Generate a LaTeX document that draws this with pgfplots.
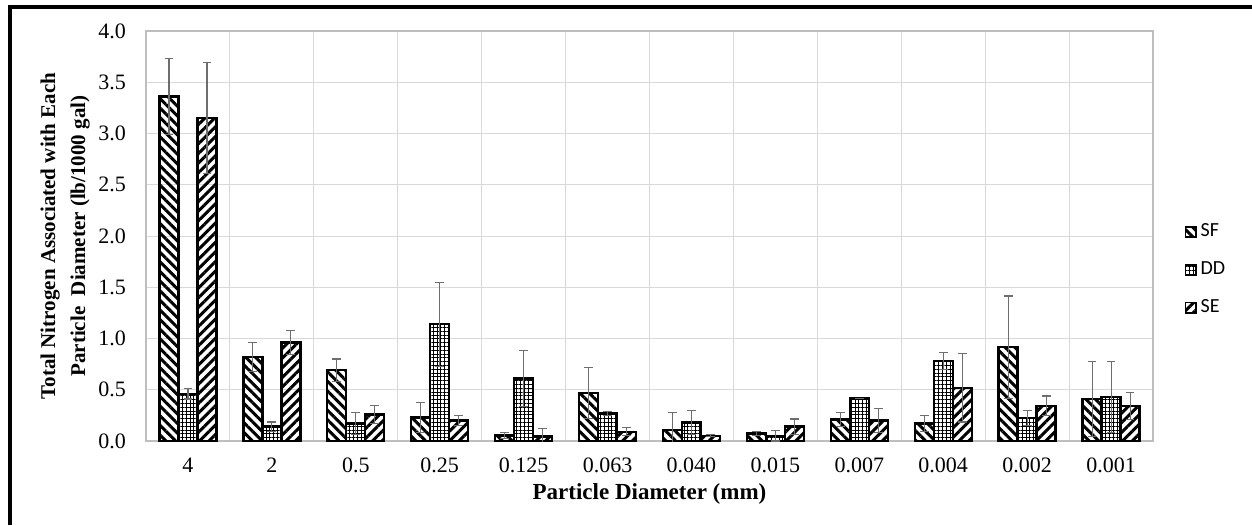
\documentclass[border=0pt]{standalone}
\usepackage{pgfplots}
\pgfplotsset{compat=1.18}
\usepackage{pgfplotstable}
\usepackage{fontspec}
\setmainfont{Liberation Serif}
\newfontfamily\legfont{Carlito}
\usetikzlibrary{patterns.meta}

\definecolor{gridgray}{RGB}{217,217,217}
\definecolor{errgray}{RGB}{110,110,110}

% x: category index 0..11 (4, 2, 0.5, ... 0.001 mm)
\pgfplotstableread{
x  sf    sfe   dd    dde   se    see
0  3.36  0.37  0.46  0.05  3.15  0.54
1  0.82  0.14  0.14  0.045 0.96  0.12
2  0.69  0.11  0.17  0.11  0.26  0.085
3  0.23  0.15  1.14  0.41  0.20  0.045
4  0.055 0.03  0.61  0.27  0.045 0.075
5  0.47  0.25  0.27  0.02  0.09  0.04
6  0.11  0.165 0.18  0.12  0.05  0.01
7  0.075 0.02  0.05  0.05  0.14  0.075
8  0.21  0.065 0.415 0.0   0.20  0.12
9  0.17  0.075 0.78  0.085 0.52  0.335
10 0.915 0.50  0.224 0.075 0.344 0.095
11 0.41  0.37  0.43  0.345 0.344 0.13
}\datatable

\tikzset{
  sfpat/.style={pattern={Lines[angle=-45,distance=3.4pt,line width=1.5pt]}},
  ddpat/.style={pattern={Hatch[angle=0,distance=1.9pt,line width=0.4pt]}},
  sepat/.style={pattern={Lines[angle=45,distance=3.4pt,line width=1.5pt]}},
}

\begin{document}
\begin{tikzpicture}
\useasboundingbox (-73pt,-42pt) rectangle (553pt,220.5pt);
\fill[white] (-73pt,-42pt) rectangle (553pt,220.5pt);
\begin{axis}[
    at={(0pt,0pt)}, anchor=south west,
    scale only axis,
    width=503.5pt, height=205pt,
    ybar=0pt, bar width=9.5pt,
    xmin=-0.5, xmax=11.5,
    ymin=0, ymax=4,
    xtick={0,...,11},
    xticklabels={4,2,0.5,0.25,0.125,0.063,0.040,0.015,0.007,0.004,0.002,0.001},
    minor xtick={-0.5,0.5,...,11.5},
    xminorgrids=true,
    ytick={0,0.5,...,4},
    ymajorgrids=true,
    major grid style={gridgray, line width=0.5pt},
    minor grid style={gridgray, line width=0.5pt},
    axis line style={gridgray!70!gray, line width=0.6pt},
    major tick length=0pt, minor tick length=0pt,
    /pgf/number format/fixed,
    /pgf/number format/fixed zerofill,
    /pgf/number format/precision=1,
    /pgf/number format/assume math mode=true,
    yticklabel style={font=\fontsize{11}{12}\selectfont, xshift=-6.5pt},
    xticklabel style={font=\fontsize{11}{12}\selectfont, yshift=-5pt},
    ylabel={\textbf{Total Nitrogen Associated with Each}\\\textbf{Particle\ \ Diameter (lb/1000 gal)}},
    ylabel style={font=\fontsize{10.5}{15}\selectfont, align=center, at={(axis description cs:-0.0804,0.5)}, anchor=center},
    xlabel={\textbf{Particle Diameter (mm)}},
    xlabel style={font=\fontsize{11.5}{12}\selectfont, at={(axis description cs:0.5,-0.129)}, anchor=center},
    area legend,
    legend image code/.code={\draw[#1, line width=0.8pt] (0pt,-2.6pt) rectangle (5.2pt,2.6pt);},
    legend style={draw=none, fill=none, at={(1.031,0.54)}, anchor=north west,
        font=\legfont\fontsize{10}{11}\selectfont, row sep=7pt, inner sep=0pt,
        /tikz/every even column/.append style={column sep=1pt}},
    legend cell align=left,
    error bars/y dir=both,
    error bars/y explicit,
    error bars/error bar style={errgray, line width=0.55pt},
    error bars/error mark options={rotate=90, mark size=2.2pt, errgray, line width=0.55pt},
]
\addplot[draw=black, line width=1.2pt, fill=white, sfpat] table[x=x, y=sf, y error=sfe] {\datatable};
\addplot[draw=black, line width=1.2pt, fill=white, ddpat] table[x=x, y=dd, y error=dde] {\datatable};
\addplot[draw=black, line width=1.2pt, fill=white, sepat] table[x=x, y=se, y error=see] {\datatable};
\legend{SF, DD, SE}
\end{axis}
\draw[black, line width=2pt] (-68pt,-42pt) -- (-68pt,216.75pt) -- (553pt,216.75pt);
\end{tikzpicture}
\end{document}
